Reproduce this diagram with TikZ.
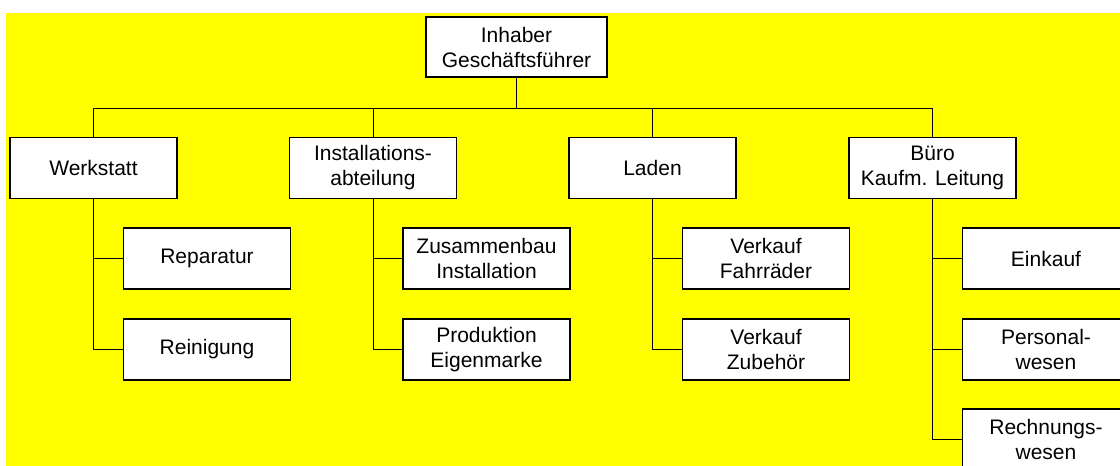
\documentclass[tikz,border=0pt]{standalone}
\usepackage{fontspec}
\setmainfont{Liberation Sans}
\usetikzlibrary{positioning, calc}
\definecolor{orgyellow}{RGB}{255,255,0}

\begin{document}
\begin{tikzpicture}[x=1pt, y=-1pt,
  unit/.style={rectangle, draw=black, fill=white, line width=1.6pt,
    minimum width=167pt, minimum height=61pt, align=center, inner sep=0pt,
    font=\fontsize{21}{25}\selectfont},
  link/.style={draw=black, line width=0.9pt},
]
%% Frame and background
\useasboundingbox (0,0) rectangle (1120,466);
\clip (0,0) rectangle (1120,466);
\fill[orgyellow] (6,13) rectangle (1120,466);
%% Head
\node[unit, minimum width=181pt, minimum height=60pt]
  (head) at (516.5,47) {Inhaber\\Geschäftsführer};
\coordinate (bus) at (516.5,108);
%% Departments
\node[unit] (werk)  at (93.5,168)  {Werkstatt};
\node[unit] (inst)  at (373,168)   {Installations-\\abteilung};
\node[unit] (laden) at (652.5,168) {Laden};
\node[unit] (buero) at (932.5,168) {Büro\\Kaufm. Leitung};
%% Sub units
\node[unit] (rep)   at (207,258.5)    {Reparatur};
\node[unit] (rein)  at (207,349.5)    {Reinigung};
\node[unit] (zus)   at (486.5,258.5)  {Zusammenbau\\Installation};
\node[unit] (prod)  at (486.5,349.5)  {Produktion\\Eigenmarke};
\node[unit] (vfahr) at (766,258.5)    {Verkauf\\Fahrräder};
\node[unit] (vzub)  at (766,349.5)    {Verkauf\\Zubehör};
\node[unit] (eink)  at (1046,258.5)   {Einkauf};
\node[unit] (pers)  at (1046,349.5)   {Personal-\\wesen};
\node[unit] (rech)  at (1046,439.5)   {Rechnungs-\\wesen};
%% Head to departments
\draw[link] (head.south) -- (bus);
\draw[link] (werk.north)  |- (bus);
\draw[link] (inst.north)  |- (bus);
\draw[link] (laden.north) |- (bus);
\draw[link] (buero.north) |- (bus);
%% Departments to sub units
\draw[link] (werk.south)  |- (rep.west);
\draw[link] (werk.south)  |- (rein.west);
\draw[link] (inst.south)  |- (zus.west);
\draw[link] (inst.south)  |- (prod.west);
\draw[link] (laden.south) |- (vfahr.west);
\draw[link] (laden.south) |- (vzub.west);
\draw[link] (buero.south) |- (eink.west);
\draw[link] (buero.south) |- (pers.west);
\draw[link] (buero.south) |- (rech.west);
\end{tikzpicture}
\end{document}
